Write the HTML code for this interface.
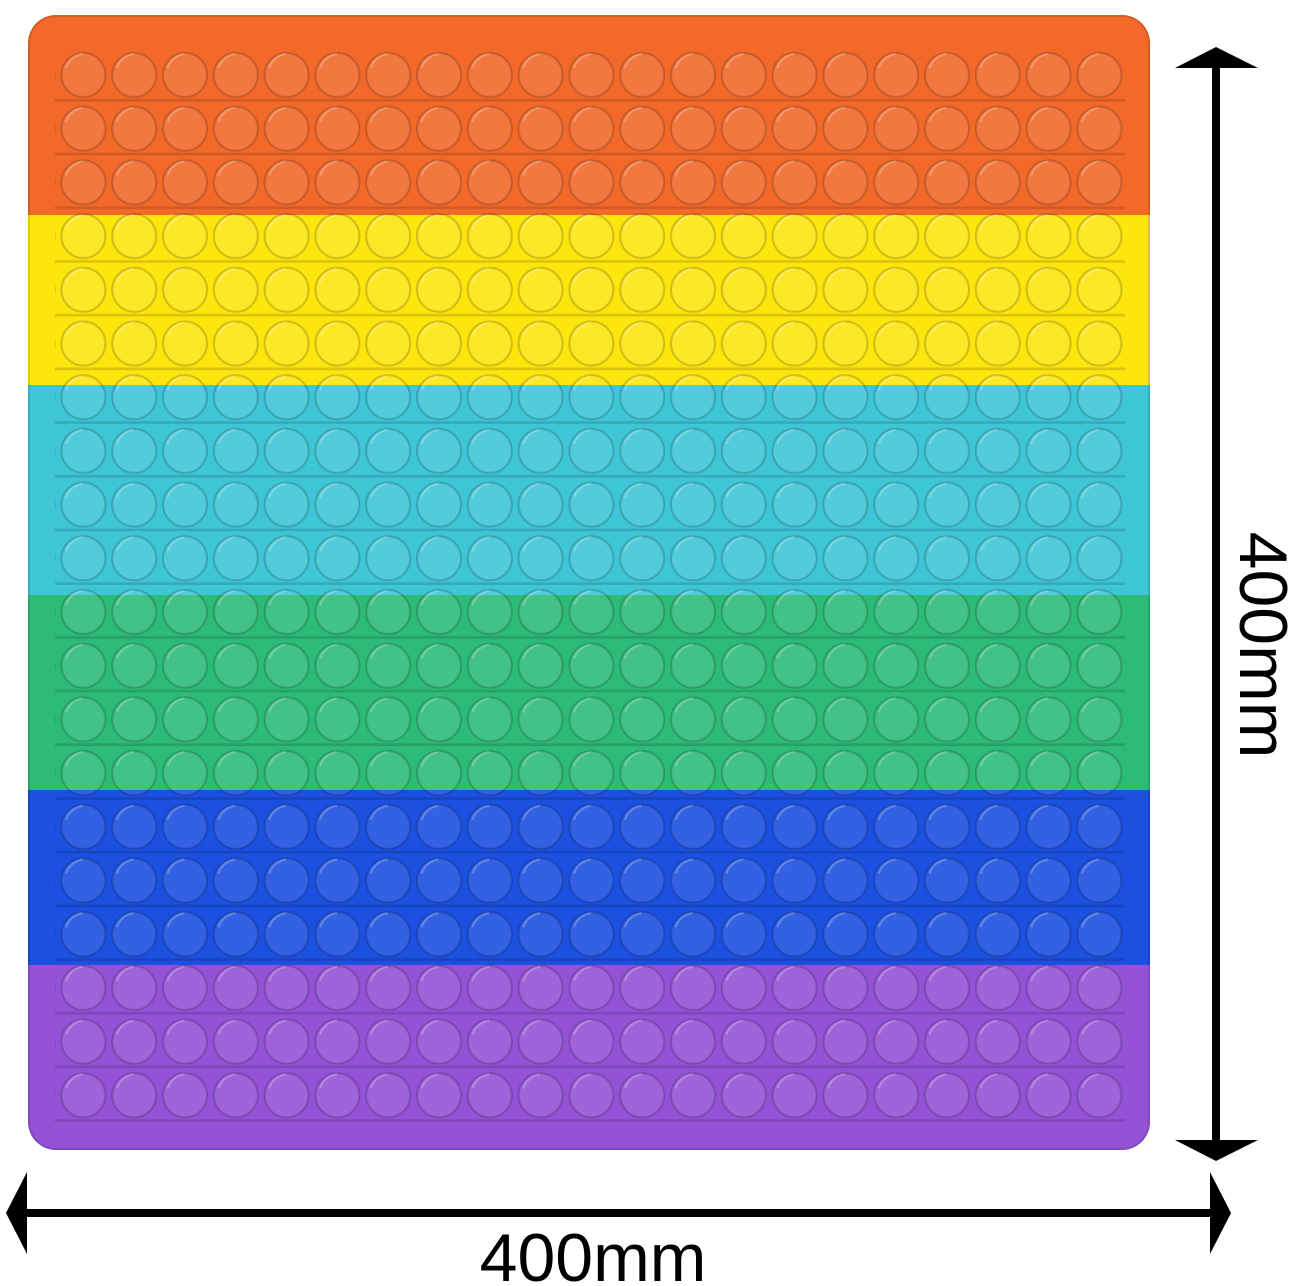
<!DOCTYPE html>
<html><head><meta charset="utf-8"><style>
html,body{margin:0;padding:0;background:#fff;}
svg{display:block;}
</style></head><body>
<svg width="1295" height="1286" viewBox="0 0 1295 1286" xmlns="http://www.w3.org/2000/svg">
<defs>
<clipPath id="board"><rect x="28" y="15" width="1122" height="1135" rx="28"/></clipPath>
<pattern id="bub" x="58" y="48" width="50.8" height="53.7" patternUnits="userSpaceOnUse">
  <circle cx="25.4" cy="27" r="22" fill="rgba(255,255,255,0.10)" stroke="rgba(0,0,0,0.18)" stroke-width="2"/>
  <path d="M8 20 A20 20 0 0 1 25 6" stroke="rgba(255,255,255,0.25)" stroke-width="2" fill="none"/>
  <rect x="0" y="51" width="50.8" height="3" fill="rgba(0,0,0,0.14)"/>
</pattern>
</defs>
<g clip-path="url(#board)">
  <rect x="0" y="0" width="1200" height="215" fill="#f2692a"/>
  <rect x="0" y="215" width="1200" height="170" fill="#fde50e"/>
  <rect x="0" y="385" width="1200" height="210" fill="#3ec6d6"/>
  <rect x="0" y="595" width="1200" height="195" fill="#2dbb78"/>
  <rect x="0" y="790" width="1200" height="175" fill="#1b50e0"/>
  <rect x="0" y="965" width="1200" height="200" fill="#9452d6"/>
  <rect x="55" y="48" width="1070" height="1075" fill="url(#bub)"/>
  <rect x="28" y="15" width="1122" height="1135" rx="28" fill="none" stroke="rgba(0,0,0,0.12)" stroke-width="4"/>
</g>
<rect x="1212" y="60" width="8" height="1085" fill="#000"/>
<polygon points="1216,47 1258,68 1175,68" fill="#000"/>
<polygon points="1216,1161 1258,1140 1175,1140" fill="#000"/>
<rect x="20" y="1209" width="1195" height="8" fill="#000"/>
<polygon points="6,1213 27,1172 27,1254" fill="#000"/>
<polygon points="1231,1213 1210,1172 1210,1254" fill="#000"/>
<text x="593" y="1281" font-family="Liberation Sans, sans-serif" font-size="68" text-anchor="middle" fill="#000">400mm</text>
<text transform="translate(1240,645) rotate(90)" font-family="Liberation Sans, sans-serif" font-size="68" text-anchor="middle" fill="#000">400mm</text>
</svg>
</body></html>
